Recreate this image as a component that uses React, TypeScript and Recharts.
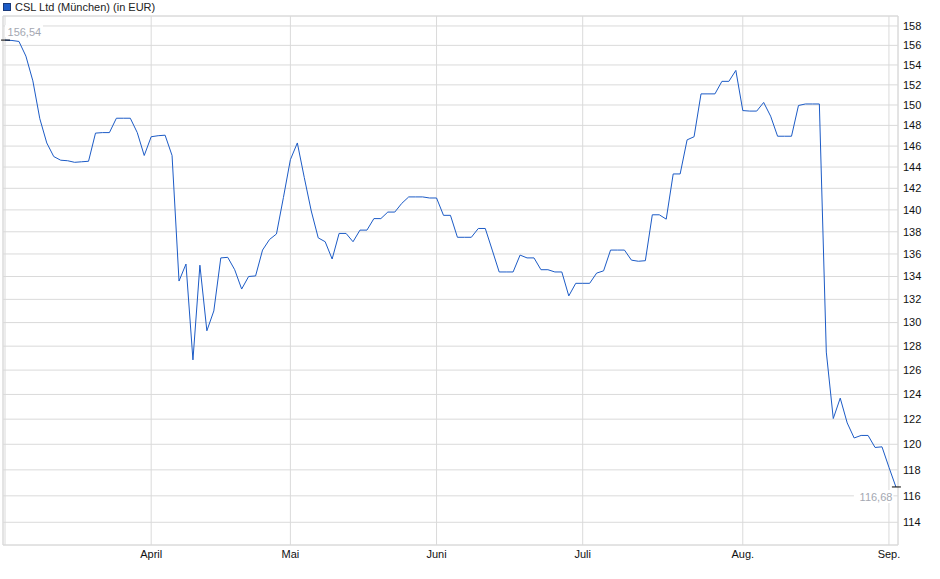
import React from 'react';
import { LineChart, Line, XAxis, YAxis, CartesianGrid, ReferenceArea, LabelList } from 'recharts';

// Daily closing prices (trading days, 3 Mar 2025 – 2 Sep 2025), EUR
const prices: number[] = [
  156.54, 156.5, 156.4, 154.9, 152.4, 148.65, 146.3, 145.0, 144.65, 144.6,
  144.45, 144.5, 144.55, 147.25, 147.3, 147.3, 148.7, 148.7, 148.7, 147.3,
  145.1, 146.9, 147.0, 147.05, 145.1, 133.6, 135.1, 126.85, 135.0, 129.3,
  131.0, 135.65, 135.7, 134.6, 132.9, 134.0, 134.05, 136.35, 137.3, 137.8,
  141.15, 144.7, 146.3, 143.0, 139.9, 137.45, 137.1, 135.55, 137.85, 137.85,
  137.1, 138.15, 138.15, 139.2, 139.2, 139.8, 139.8, 140.6, 141.2, 141.2,
  141.2, 141.1, 141.1, 139.5, 139.5, 137.5, 137.5, 137.5, 138.3, 138.3,
  136.35, 134.4, 134.4, 134.4, 135.9, 135.65, 135.65, 134.6, 134.6, 134.4,
  134.4, 132.3, 133.4, 133.4, 133.4, 134.3, 134.5, 136.35, 136.35, 136.35,
  135.45, 135.35, 135.4, 139.55, 139.55, 139.15, 143.35, 143.35, 146.6, 146.9,
  151.1, 151.1, 151.1, 152.35, 152.35, 153.45, 149.45, 149.4, 149.4, 150.25,
  148.9, 146.95, 146.95, 146.95, 149.95, 150.1, 150.1, 150.1, 127.5, 122.05,
  123.7, 121.7, 120.5, 120.7, 120.7, 119.75, 119.8, 118.2, 116.68,
];

// Month ticks: index of the first trading day of each month
const monthTickIndex: number[] = [0, 21, 41, 62, 83, 106, 127];
const monthTickLabel: string[] = ['', 'April', 'Mai', 'Juni', 'Juli', 'Aug.', 'Sep.'];

const priceTicks: number[] = [114, 116, 118, 120, 122, 124, 126, 128, 130, 132, 134, 136, 138, 140, 142, 144, 146, 148, 150, 152, 154, 156, 158];

const xDomain: [number, number] = [-0.29, 128.3];
const yDomain: [number, number] = [112.31, 159.04];

const seriesName = 'CSL Ltd (München) (in EUR)';

const data = prices.map((price, i) => ({ i, price }));

const FONT = '"Liberation Sans", Arial, Helvetica, sans-serif';
const LINE_COLOR = '#1c5bc6';
const GRID = '#dadada';

const fmt = (v: number) => v.toFixed(2).replace('.', ',');

const EndLabel = (props: any) => {
  const { x, y, value, index } = props;
  if (index === 0) {
    return (
      <g>
        <rect x={x} y={y - 15} width={38} height={12} fill="#fff" />
        <text x={x + 2.5} y={y - 4.5} fontSize={11} fontFamily={FONT} fill="#a4a8b2">
          {fmt(value)}
        </text>
        <line x1={x - 4} x2={x + 5} y1={y} y2={y} stroke="#000" strokeWidth={1} />
      </g>
    );
  }
  if (index === prices.length - 1) {
    return (
      <g>
        <rect x={x - 42} y={y + 3} width={39.5} height={13} fill="#fff" />
        <text x={x - 3.5} y={y + 14.5} fontSize={11} fontFamily={FONT} fill="#a4a8b2" textAnchor="end">
          {fmt(value)}
        </text>
        <line x1={x - 4} x2={x + 5} y1={y} y2={y} stroke="#000" strokeWidth={1} />
      </g>
    );
  }
  return null;
};

export default function App() {
  return (
    <div style={{ position: 'absolute', left: 0, top: 0, width: 940, height: 579, background: '#fff' }}>
      <div
        style={{
          position: 'absolute',
          left: 3,
          top: 0,
          height: 14,
          display: 'flex',
          alignItems: 'center',
          fontFamily: FONT,
          fontSize: 11,
          color: '#222',
          whiteSpace: 'nowrap',
        }}
      >
        <span
          style={{
            display: 'inline-block',
            width: 6,
            height: 6,
            background: LINE_COLOR,
            border: '1px solid #1a3a7a',
            marginRight: 4,
          }}
        />
        <span>{seriesName}</span>
      </div>
      <LineChart width={940} height={579} data={data} margin={{ top: 16, right: 0, left: 3, bottom: 0 }}>
        <CartesianGrid stroke={GRID} strokeWidth={1} />
        <ReferenceArea
          x1={xDomain[0]}
          x2={xDomain[1]}
          y1={yDomain[0]}
          y2={yDomain[1]}
          fill="none"
          stroke={GRID}
          strokeWidth={1}
          ifOverflow="visible"
        />
        <XAxis
          dataKey="i"
          type="number"
          domain={xDomain}
          allowDataOverflow
          ticks={monthTickIndex}
          tickFormatter={(v: number) => monthTickLabel[monthTickIndex.indexOf(v)] ?? ''}
          height={34}
          axisLine={false}
          tickLine={false}
          tickSize={0}
          tickMargin={5}
          interval={0}
          tick={{ fontSize: 11, fontFamily: FONT, fill: '#111' }}
        />
        <YAxis
          orientation="right"
          type="number"
          scale="log"
          domain={yDomain}
          allowDataOverflow
          ticks={priceTicks}
          width={42}
          axisLine={false}
          tickLine={false}
          tickSize={0}
          tickMargin={5}
          interval={0}
          tick={{ fontSize: 11, fontFamily: FONT, fill: '#111' }}
        />
        <Line
          type="linear"
          dataKey="price"
          name={seriesName}
          stroke={LINE_COLOR}
          strokeWidth={1}
          dot={false}
          activeDot={false}
          isAnimationActive={false}
        >
          <LabelList dataKey="price" content={EndLabel} />
        </Line>
      </LineChart>
    </div>
  );
}
